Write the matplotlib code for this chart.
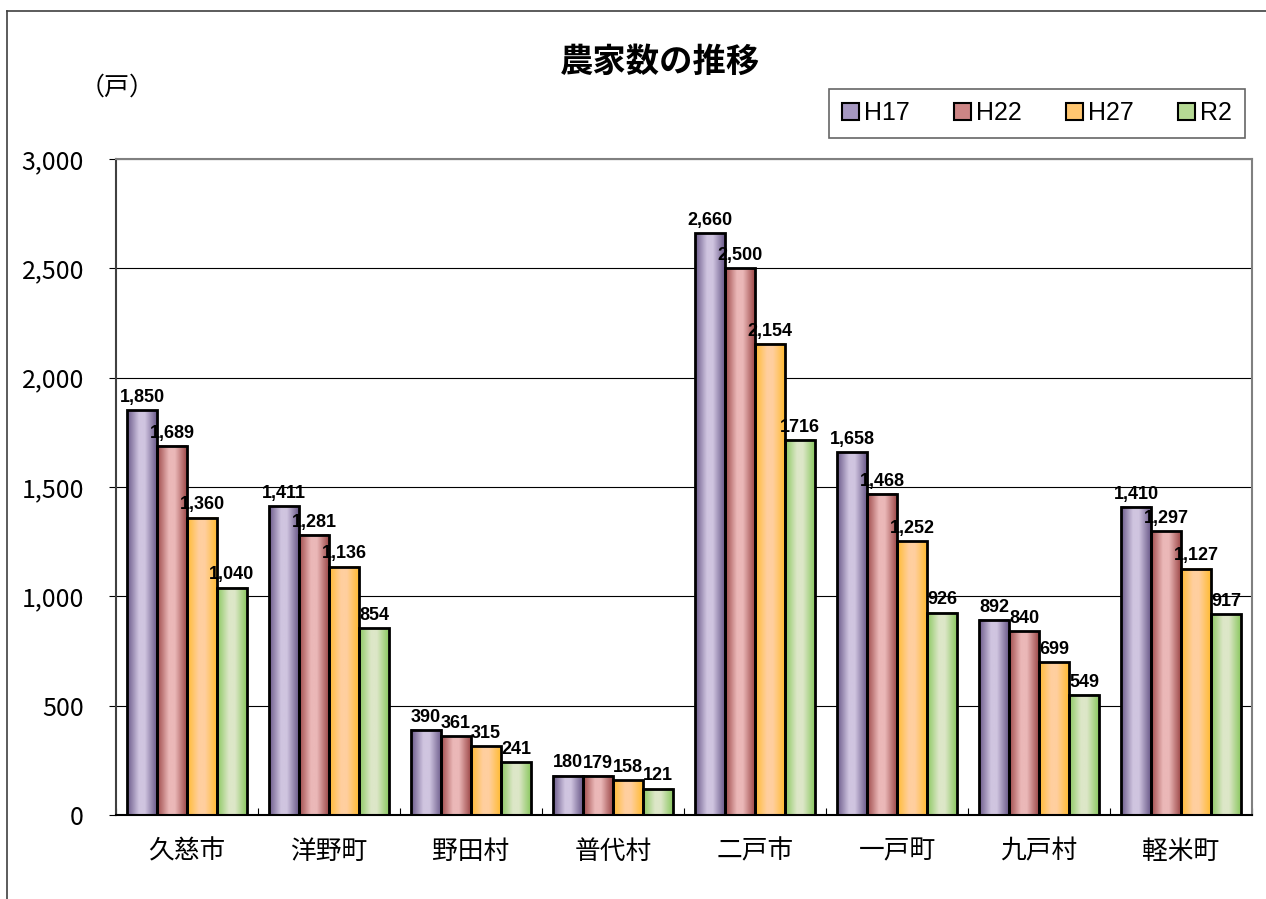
import numpy as np
import matplotlib.pyplot as plt
from matplotlib.colors import LinearSegmentedColormap
from matplotlib.patches import Patch
from matplotlib.lines import Line2D

plt.rcParams['font.family'] = ['Noto Sans CJK JP', 'DejaVu Sans']

# data
towns = ['久慈市', '洋野町', '野田村', '普代村', '二戸市', '一戸町', '九戸村', '軽米町']
years = ['H17', 'H22', 'H27', 'R2']
h17 = [1850, 1411, 390, 180, 2660, 1658, 892, 1410]
h22 = [1689, 1281, 361, 179, 2500, 1468, 840, 1297]
h27 = [1360, 1136, 315, 158, 2154, 1252, 699, 1127]
r2 = [1040, 854, 241, 121, 1716, 926, 549, 917]
series = [h17, h22, h27, r2]
# labels as printed on the chart (one without comma)
lab_h17 = ['1,850', '1,411', '390', '180', '2,660', '1,658', '892', '1,410']
lab_h22 = ['1,689', '1,281', '361', '179', '2,500', '1,468', '840', '1,297']
lab_h27 = ['1,360', '1,136', '315', '158', '2,154', '1,252', '699', '1,127']
lab_r2 = ['1,040', '854', '241', '121', '1716', '926', '549', '917']
labels = [lab_h17, lab_h22, lab_h27, lab_r2]

# gradient colours (edge dark, centre light)
dark = ['#6b5a8a', '#9e4a4a', '#ffbb33', '#8cc862']
light = ['#d0c5e0', '#ebb8b8', '#ffcf9f', '#dde7c8']
mid = ['#a597c0', '#cc8585', '#ffc670', '#b5d994']

fig = plt.figure(figsize=(12.66, 8.99), dpi=100)
ax = fig.add_axes([116 / 1266, 84 / 899, 1136 / 1266, 656 / 899])

w = 30 / 142
grad = np.linspace(0, 1, 64).reshape(1, -1)
for s, (vals, labs) in enumerate(zip(series, labels)):
    cmap = LinearSegmentedColormap.from_list(
        'g%d' % s, [(0, dark[s]), (0.4, light[s]), (0.6, light[s]), (1, dark[s])])
    for i, v in enumerate(vals):
        x0 = i + 0.5 + (s - 2) * w
        ax.imshow(grad, extent=[x0, x0 + w, 0, v], aspect='auto', cmap=cmap,
                  zorder=2, interpolation='bicubic')
        ax.bar(x0, v, width=w, align='edge', facecolor='none',
               edgecolor='black', linewidth=2, zorder=3)
        ax.annotate(labs[i], (x0 + w / 2, v), xytext=(0, 3),
                    textcoords='offset points', ha='center', va='bottom',
                    fontsize=13, fontweight='bold',
                    family=['Liberation Sans', 'DejaVu Sans'], zorder=4)

ax.set_xlim(0, 8)
ax.set_ylim(0, 3000)
ax.set_yticks(np.arange(0, 3001, 500))
ax.set_yticklabels(['{:,}'.format(t) for t in range(0, 3001, 500)], fontsize=18)
ax.yaxis.grid(True, color='black', linewidth=0.8)
ax.set_axisbelow(True)
ax.tick_params(axis='y', length=5, direction='out', pad=18)

ax.set_xticks(np.arange(0, 9))
ax.set_xticklabels([])
ax.set_xticks(np.arange(8) + 0.5, minor=True)
ax.set_xticklabels(towns, minor=True, fontsize=18.5)
ax.tick_params(axis='x', which='major', length=5, direction='in')
ax.tick_params(axis='x', which='minor', length=0, pad=17)

for side in ['top', 'right']:
    ax.spines[side].set_color('#808080')
    ax.spines[side].set_linewidth(1.5)
ax.spines['left'].set_color('#404040')
ax.spines['left'].set_linewidth(1.5)
ax.spines['bottom'].set_linewidth(1.5)

fig.text(660 / 1266, 1 - 62 / 899, '農家数の推移', ha='center', va='center',
         fontsize=24, fontweight='bold')
fig.text(117 / 1266, 1 - 88 / 899, '（戸）', ha='center', va='center', fontsize=18)

handles = [Patch(facecolor=mid[k], edgecolor='black', linewidth=1.5) for k in range(4)]
leg = fig.legend(handles, years, loc='center', bbox_to_anchor=(1037 / 1266, 1 - 113 / 899),
                 ncol=4, fancybox=False, handlelength=0.7, handleheight=0.7,
                 handletextpad=0.2, columnspacing=1.75, borderpad=0.5, borderaxespad=0,
                 prop={'family': ['Liberation Sans', 'DejaVu Sans'], 'size': 18})
leg.get_frame().set_edgecolor('#404040')
leg.get_frame().set_linewidth(1.2)

# outer chart frame (left and top)
fig.add_artist(Line2D([7 / 1266, 7 / 1266], [0, 1 - 11 / 899], color='#404040', lw=1.2))
fig.add_artist(Line2D([7 / 1266, 1], [1 - 11 / 899, 1 - 11 / 899], color='#404040', lw=1.2))

plt.savefig('out.png', dpi=100)
